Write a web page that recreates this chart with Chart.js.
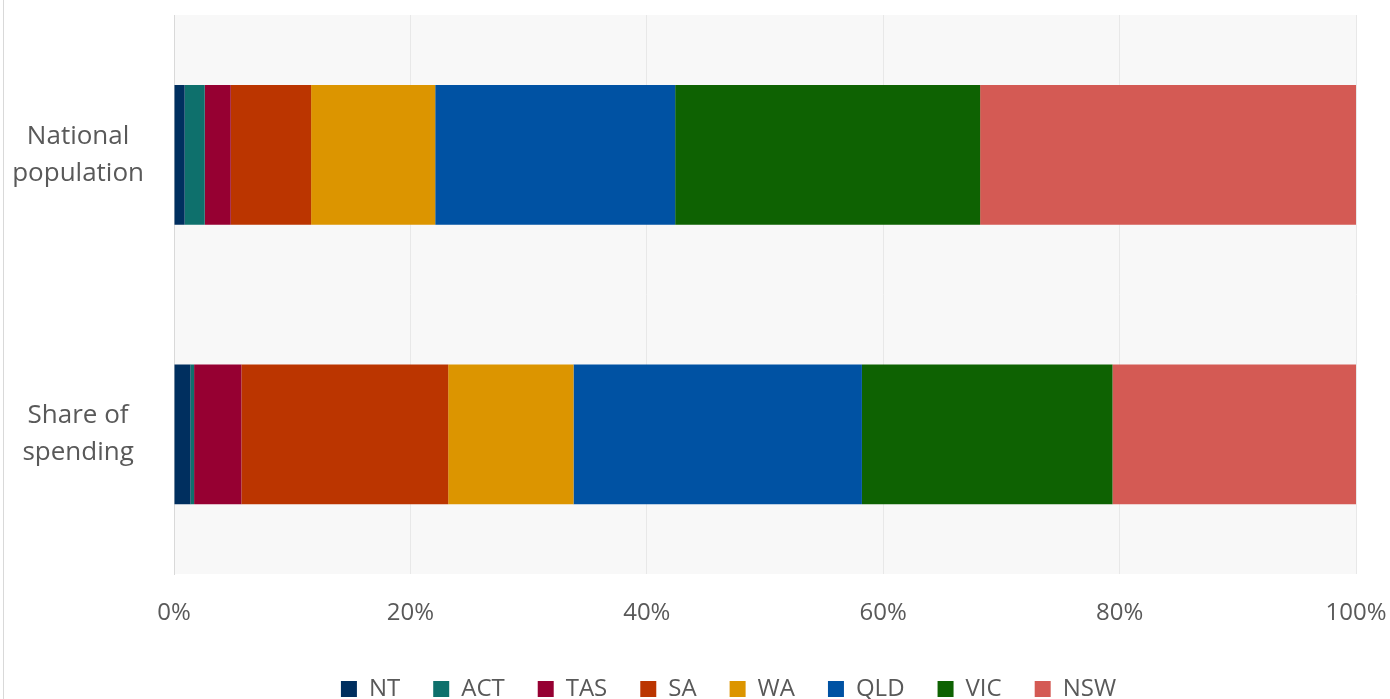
<!DOCTYPE html>
<html>
<head>
<meta charset="utf-8">
<style>
    html, body { margin: 0; padding: 0; background: #fff; overflow: hidden; }
    #wrap {
        position: absolute; left: 3px; top: 0;
        width: 1449px; height: 711px;
        border-left: 1px solid #d9d9d9;
    }
</style>
</head>
<body>
<div id="wrap">
    <canvas id="state-chart"></canvas>
</div>

<script src="https://cdn.jsdelivr.net/npm/chart.js"></script>

<script>
    // categories on the y axis (two lines each)
    const categories = [['National', 'population'], ['Share of', 'spending']];

    // one stacked series per state, left to right
    const states = ['NT', 'ACT', 'TAS', 'SA', 'WA', 'QLD', 'VIC', 'NSW'];
    const nationalPopulation = [0.9, 1.7, 2.2, 6.8, 10.5, 20.3, 25.8, 31.8];
    const shareOfSpending = [1.4, 0.3, 4.0, 17.5, 10.6, 24.4, 21.2, 20.6];
    const stateColours = ['#002f5f', '#0e706c', '#960032', '#bb3500', '#dc9500', '#0052a3', '#0e6202', '#d45a54'];

    const xTicks = [0, 20, 40, 60, 80, 100];

    Chart.defaults.font.family = "'Open Sans', sans-serif";
    Chart.defaults.color = '#595959';

    const plotBackground = {
        id: 'plotBackground',
        beforeDraw(chart) {
            const { ctx, chartArea } = chart;
            ctx.save();
            ctx.fillStyle = '#f8f8f8';
            ctx.fillRect(chartArea.left, chartArea.top, chartArea.right - chartArea.left, chartArea.bottom - chartArea.top);
            ctx.restore();
        }
    };

    const datasets = states.map((state, i) => ({
        label: state,
        data: [nationalPopulation[i], shareOfSpending[i]],
        backgroundColor: stateColours[i],
        borderWidth: 0,
        barPercentage: 0.5,
        categoryPercentage: 1
    }));

    new Chart(document.getElementById('state-chart'), {
        type: 'bar',
        data: { labels: categories, datasets },
        plugins: [plotBackground],
        options: {
            indexAxis: 'y',
            responsive: true,
            maintainAspectRatio: false,
            animation: false,
            layout: { padding: { top: 15, left: 0, right: 0, bottom: 0 } },
            plugins: {
                tooltip: { enabled: false },
                legend: {
                    position: 'bottom',
                    labels: {
                        boxWidth: 16,
                        boxHeight: 16,
                        padding: 33,
                        font: { size: 24 },
                        color: '#595959'
                    }
                }
            },
            scales: {
                x: {
                    stacked: true,
                    min: 0,
                    max: 100,
                    afterBuildTicks: (scale) => {
                        scale.ticks = xTicks.map(v => ({ value: v }));
                    },
                    afterFit: (scale) => {
                        scale.height = 70;
                        scale.paddingRight = 97;
                    },
                    grid: { color: '#e8e8e8', drawTicks: false },
                    border: { display: false },
                    ticks: {
                        padding: 25,
                        font: { size: 24 },
                        callback: (value) => `${value}%`
                    }
                },
                y: {
                    stacked: true,
                    afterFit: (scale) => {
                        scale.width = 170;
                        scale.paddingTop = 0;
                        scale.paddingBottom = 0;
                    },
                    grid: { display: false, drawTicks: false },
                    border: { display: true, color: '#d9d9d9', width: 1 },
                    ticks: {
                        padding: 30,
                        crossAlign: 'center',
                        font: { size: 26, lineHeight: 1.42 }
                    }
                }
            }
        }
    });
</script>
</body>
</html>
